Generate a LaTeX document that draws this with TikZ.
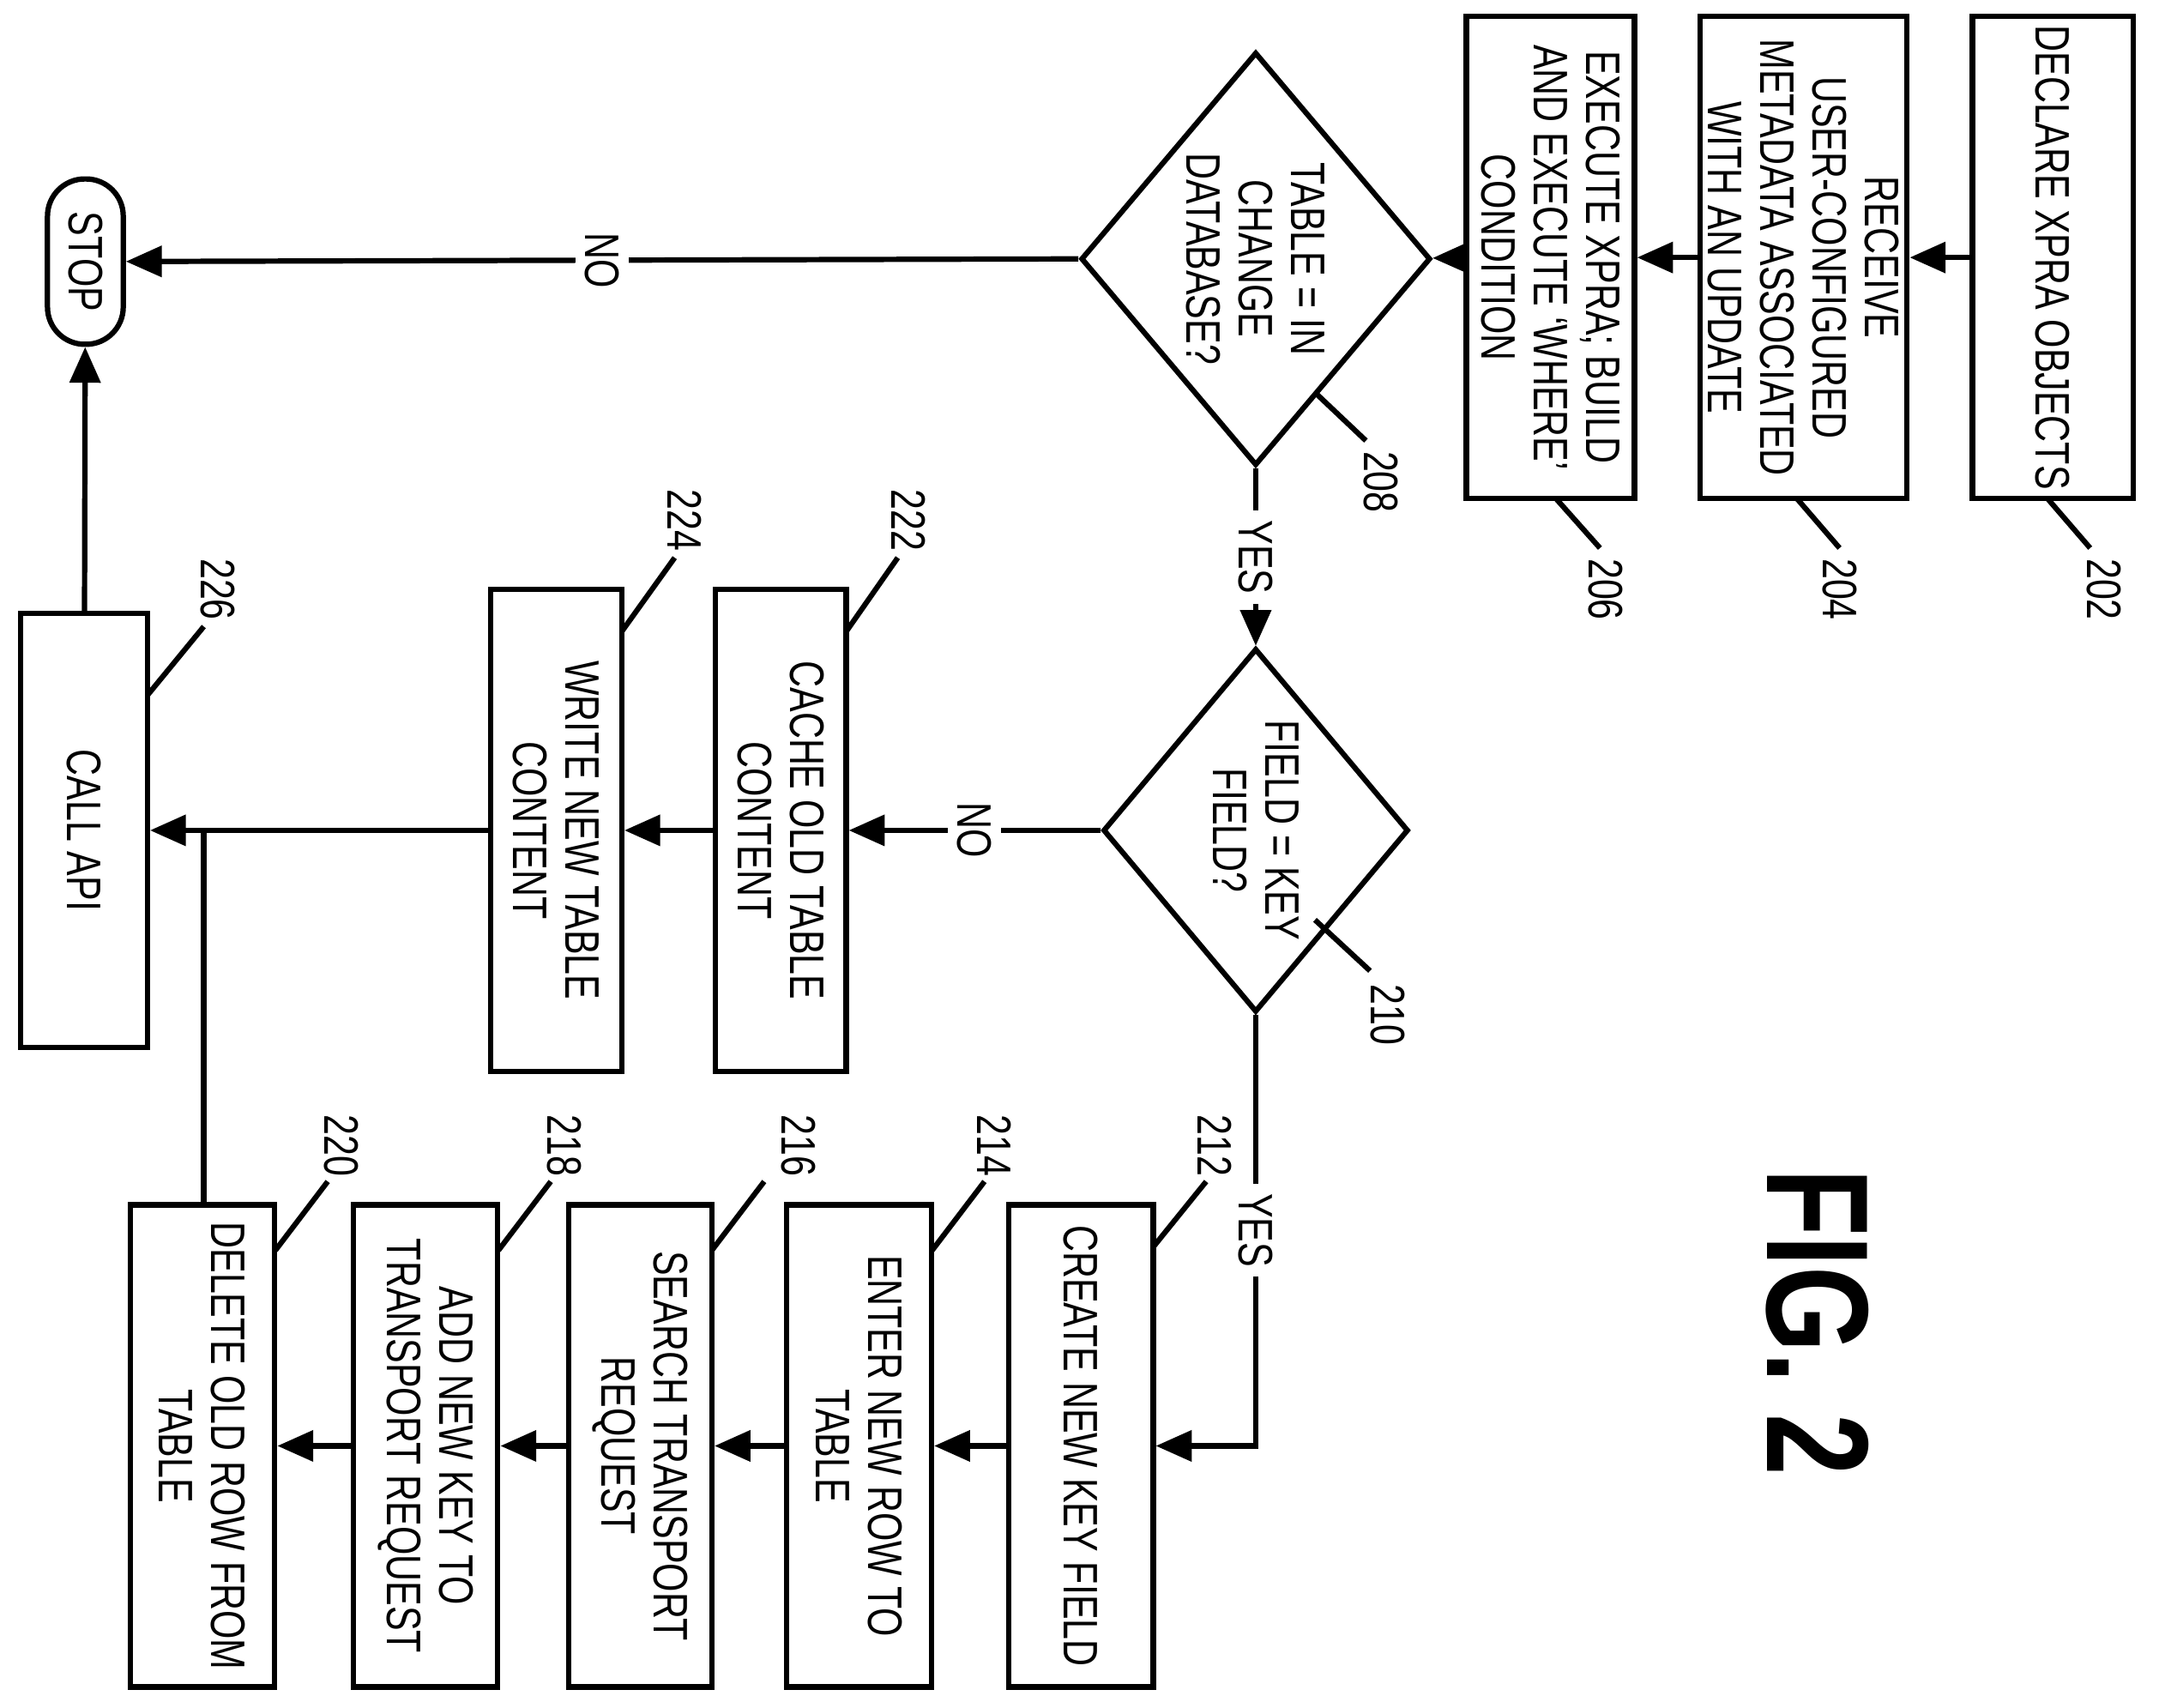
\documentclass[tikz,border=0pt]{standalone}
\usepackage{fontspec}
\setmainfont[FakeStretch=0.76]{Liberation Sans}
\usetikzlibrary{shapes.geometric,arrows.meta}
\tikzset{
  task/.style={draw,line width=1.1pt,rectangle,rotate=-90,align=center,inner sep=0pt,
    font=\fontsize{10}{10.8}\selectfont},
  query/.style={draw,line width=1.1pt,diamond,rotate=-90,align=center,inner sep=0pt,
    font=\fontsize{10}{10.8}\selectfont},
  ref/.style={rotate=-90,font=\fontsize{10}{11}\selectfont},
  answer/.style={fill=white,rotate=-90,font=\fontsize{10}{11}\selectfont,inner sep=2pt},
  flow/.style={line width=1.1pt,-{Triangle[length=2.6mm,width=2.2mm]}},
  lead/.style={line width=1.1pt}
}
\begin{document}
\begin{tikzpicture}[x=0.01cm,y=-0.01cm]
  \useasboundingbox (0,0) rectangle (1568,1240);
  % top row
  \node[task,minimum width=3.5cm,minimum height=1.17cm](b202) at (1491,187){DECLARE XPRA OBJECTS};
  \node[task,minimum width=3.5cm,minimum height=1.5cm](b204) at (1310,187){RECEIVE\\USER-CONFIGURED\\METADATA ASSOCIATED\\WITH AN UPDATE};
  \node[task,minimum width=3.5cm,minimum height=1.22cm](b206) at (1126,187){EXECUTE XPRA; BUILD\\AND EXECUTE `WHERE'\\CONDITION};
  \node[query,minimum width=3cm,minimum height=1.86cm](d208) at (912,188){TABLE = IN\\CHANGE\\DATABASE?};
  \node[draw,line width=1.1pt,rounded corners=0.27cm,rotate=-90,minimum width=1.2cm,minimum height=0.55cm,inner sep=0pt,
    font=\fontsize{10}{11}\selectfont](stop) at (62,190){STOP};
  % middle
  \node[query,minimum width=2.64cm,minimum height=1.86cm](d210) at (912,603){FIELD = KEY\\FIELD?};
  \node[task,minimum width=3.5cm,minimum height=0.95cm](b222) at (567,603){CACHE OLD TABLE\\CONTENT};
  \node[task,minimum width=3.5cm,minimum height=0.95cm](b224) at (404,603){WRITE NEW TABLE\\CONTENT};
  \node[task,minimum width=3.15cm,minimum height=0.92cm](b226) at (61,603){CALL API};
  % bottom row
  \node[task,minimum width=3.5cm,minimum height=1.05cm](b212) at (785,1050){CREATE NEW KEY FIELD};
  \node[task,minimum width=3.5cm,minimum height=1.05cm](b214) at (624,1050){ENTER NEW ROW TO\\TABLE};
  \node[task,minimum width=3.5cm,minimum height=1.04cm](b216) at (465,1050){SEARCH TRANSPORT\\REQUEST};
  \node[task,minimum width=3.5cm,minimum height=1.05cm](b218) at (309,1050){ADD NEW KEY TO\\TRANSPORT REQUEST};
  \node[task,minimum width=3.5cm,minimum height=1.05cm](b220) at (147,1050){DELETE OLD ROW FROM\\TABLE};
  % flow
  \draw[flow] (b202) -- (b204);
  \draw[flow] (b204) -- (b206);
  \draw[flow] (b206) -- (d208);
  \draw[flow] (d208.south) -- node[answer](no1){NO} (stop);
  \draw[flow] (d208.east) -- node[answer](yes1){YES} (d210.west);
  \draw[flow] (d210.south) -- node[answer](no2){NO} (b222);
  \draw[flow] (b222) -- (b224);
  \draw[flow] (b224) -- (b226);
  \coordinate (bend) at (912,1050);
  \draw[flow] (d210.east) -- node[answer](yes2){YES} (bend) -- (b212);
  \draw[flow] (b212) -- (b214);
  \draw[flow] (b214) -- (b216);
  \draw[flow] (b216) -- (b218);
  \draw[flow] (b218) -- (b220);
  \coordinate (join) at (148,603);
  \draw[lead] (b220.west -| join) -- (join);
  \draw[flow] (b226) -- (stop);
  % reference numbers
  \node[ref](l202) at (1528,428){202};
  \node[ref](l204) at (1336,428){204};
  \node[ref](l206) at (1166,428){206};
  \node[ref](l208) at (1003,350){208};
  \node[ref](l210) at (1008,737){210};
  \node[ref](l212) at (882,832){212};
  \node[ref](l214) at (722,832){214};
  \node[ref](l216) at (580,832){216};
  \node[ref](l218) at (410,832){218};
  \node[ref](l220) at (248,832){220};
  \node[ref](l222) at (660,378){222};
  \node[ref](l224) at (497,378){224};
  \node[ref](l226) at (158,428){226};
  \draw[lead] (1487,362) -- (1518,398);
  \draw[lead] (1305,362) -- (1336,398);
  \draw[lead] (1130,362) -- (1162,398);
  \draw[lead] (955,285) -- (992,320);
  \draw[lead] (955,668) -- (995,705);
  \draw[lead] (838,905) -- (876,858);
  \draw[lead] (677,908) -- (715,858);
  \draw[lead] (517,908) -- (555,858);
  \draw[lead] (362,908) -- (400,858);
  \draw[lead] (200,908) -- (238,858);
  \draw[lead] (615,458) -- (652,405);
  \draw[lead] (452,458) -- (490,405);
  \draw[lead] (107,505) -- (148,455);
  \node[rotate=-90,font=\bfseries\fontsize{30}{32}\selectfont](fig) at (1320,960){FIG. 2};
\end{tikzpicture}
\end{document}
